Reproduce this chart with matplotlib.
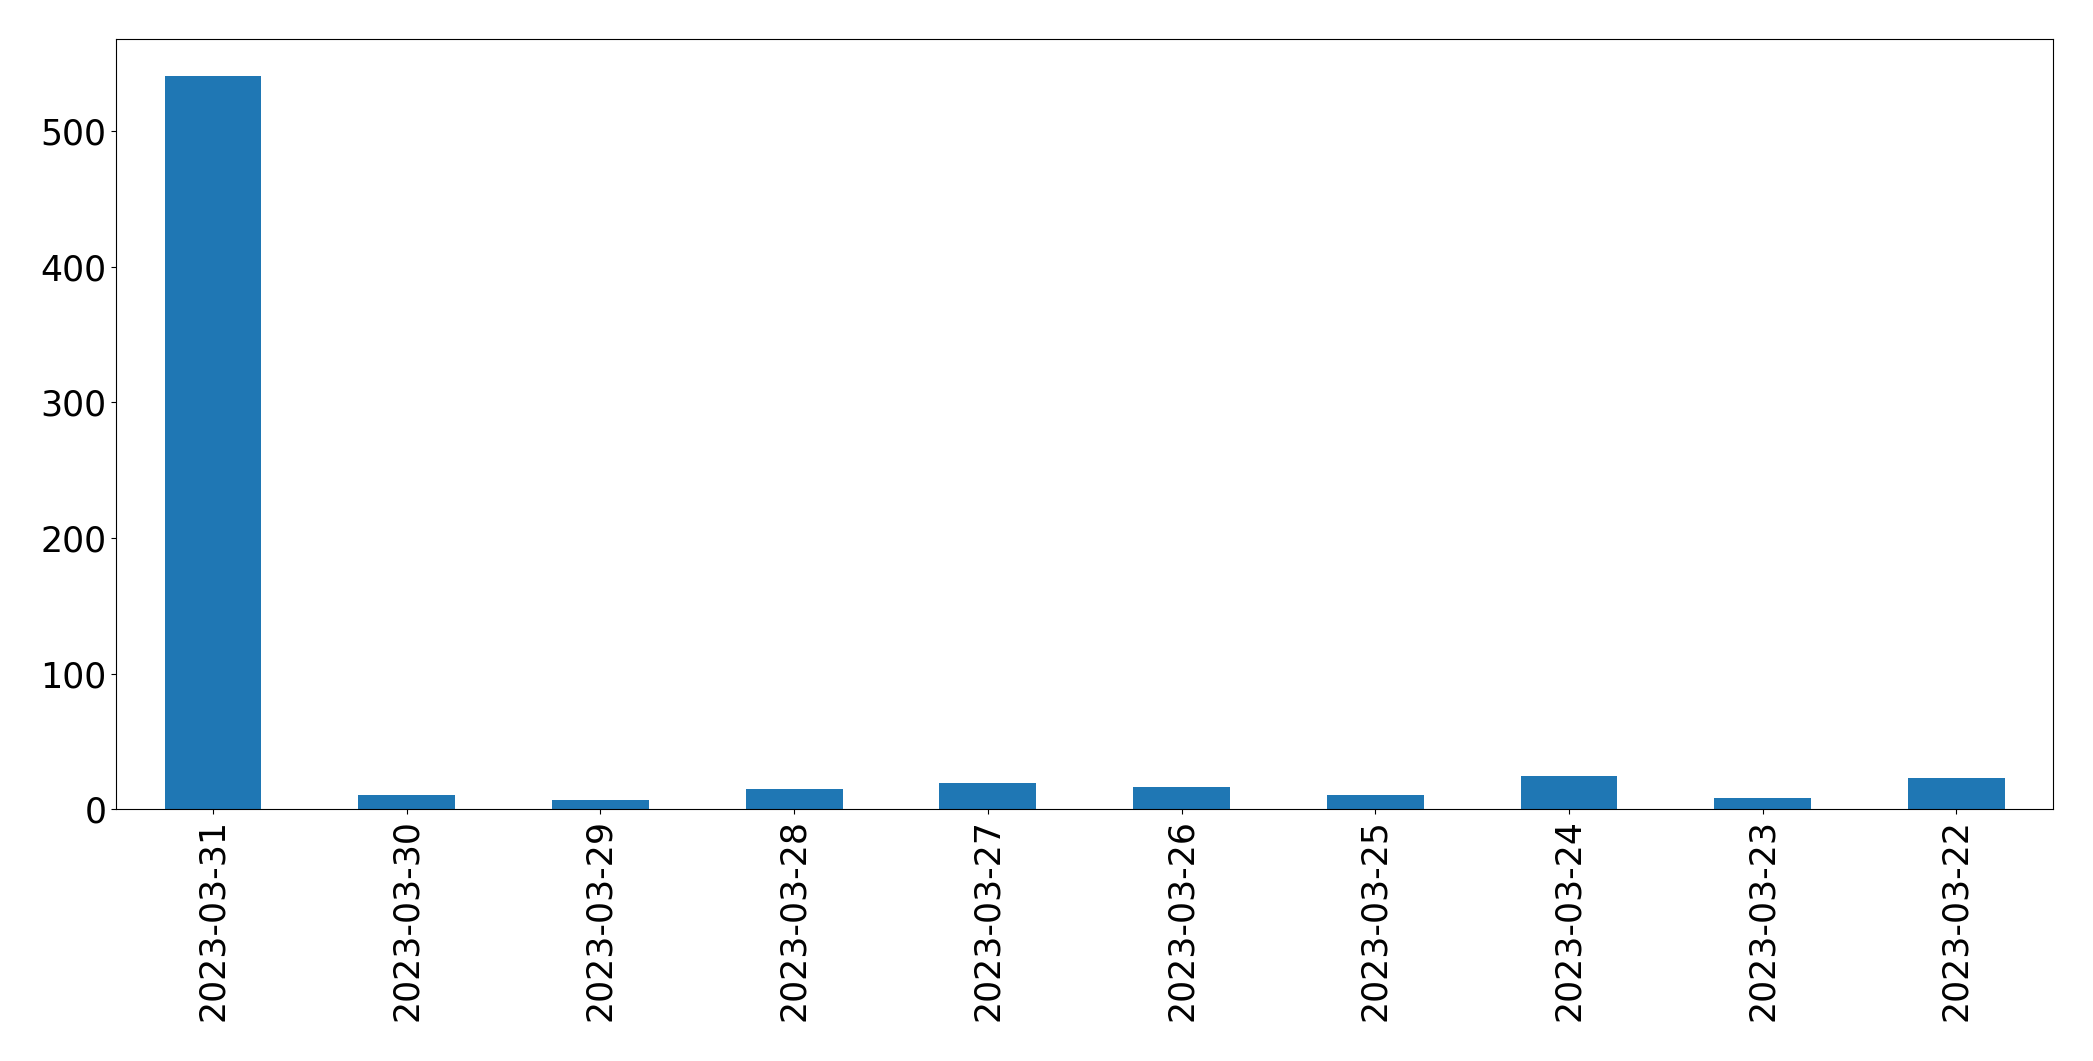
import matplotlib
matplotlib.use("Agg")
import matplotlib.pyplot as plt
import pandas as pd

dates = ["2023-03-31", "2023-03-30", "2023-03-29", "2023-03-28", "2023-03-27",
         "2023-03-26", "2023-03-25", "2023-03-24", "2023-03-23", "2023-03-22"]
counts = [541, 10, 7, 15, 19, 16, 10, 24, 8, 23]

s = pd.Series(counts, index=dates)

fig = plt.figure(figsize=(20.93, 10.61), dpi=100)
ax = s.plot(kind="bar", color="#1f77b4", fontsize=25)
ax.tick_params(axis="x", rotation=90)
plt.subplots_adjust(left=0.0555, right=0.981, top=0.963, bottom=0.2375)
plt.savefig("out.png", dpi=100)
